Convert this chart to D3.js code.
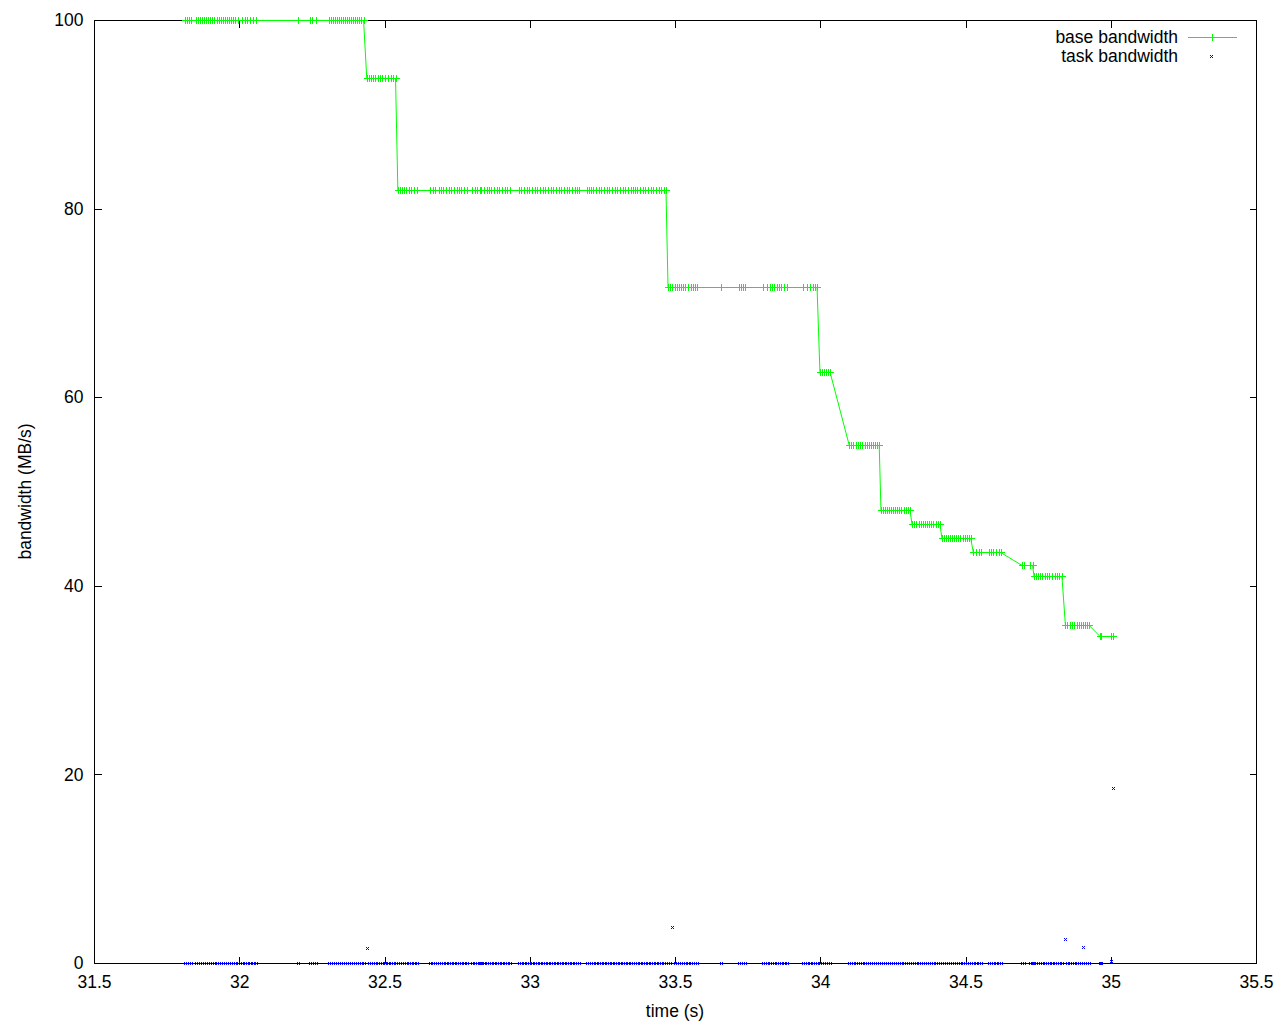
<!DOCTYPE html>
<html><head><meta charset="utf-8">
<script src="https://cdn.jsdelivr.net/npm/d3@7/dist/d3.min.js"></script>
<style>
body{margin:0;background:#fff}
svg{display:block}
text{font-family:"Liberation Sans",Arial,sans-serif;font-size:17.5px;fill:#000}
</style>
</head><body><svg id="c" width="1280" height="1024"></svg>
<script>
// ---- data ----
const xTicks = [31.5, 32, 32.5, 33, 33.5, 34, 34.5, 35, 35.5];
const yTicks = [0, 20, 40, 60, 80, 100];
const xTitle = "time (s)";
const yTitle = "bandwidth (MB/s)";
const seriesNames = ["base bandwidth", "task bandwidth"];

// base bandwidth level (MB/s) of each step
const stepLevels = [100, 93.8, 82.0, 71.7, 62.7, 54.9, 48.0, 46.6, 45.1, 43.6, 42.2, 41.0, 35.8, 34.7];
// sample times (s) belonging to each step
const stepTimes = [
  [31.813,31.820,31.827,31.834,31.851,31.858,31.865,31.872,31.879,31.886,31.892,31.899,31.906,31.913,31.923,31.930,31.937,31.944,31.951,31.958,31.965,31.972,31.978,31.985,31.996,32.009,32.020,32.027,32.037,32.047,32.058,32.202,32.244,32.250,32.264,32.309,32.316,32.323,32.330,32.336,32.343,32.350,32.357,32.364,32.371,32.378,32.385,32.391,32.398,32.405,32.412,32.419,32.428],
  [32.439,32.446,32.452,32.461,32.468,32.478,32.484,32.491,32.503,32.512,32.521,32.530,32.538],
  [32.546,32.553,32.560,32.567,32.574,32.583,32.592,32.601,32.611,
   32.657,32.666,32.675,32.686,32.693,32.702,32.712,32.721,32.730,32.739,32.748,32.757,32.764,32.774,32.783,
   32.801,32.810,32.819,32.829,32.833,32.842,32.852,32.859,32.868,32.877,32.886,32.895,32.904,32.914,32.923,32.932,
   32.962,32.971,32.980,32.989,32.998,33.008,33.017,33.026,33.035,33.044,33.053,33.063,33.072,33.081,33.090,33.100,33.108,33.118,33.127,33.136,33.145,33.155,33.164,33.170,
   33.196,33.203,33.210,33.219,33.228,33.237,33.246,33.256,33.265,33.274,33.283,33.292,33.301,33.311,33.320,33.329,33.338,33.347,33.356,33.363,33.370,33.379,33.389,33.398,33.407,33.416,33.425,33.434,33.444,33.453,33.462,33.469],
  [33.476,33.483,33.490,33.499,33.506,33.513,33.522,33.528,33.535,33.545,33.554,33.561,33.570,33.577,
   33.657,
   33.721,33.728,33.735,33.742,
   33.802,33.816,33.827,33.834,33.841,33.850,33.859,33.866,33.875,33.884,
   33.942,33.955,33.965,33.974,33.981,33.989],
  [33.999,34.006,34.013,34.020,34.027,34.034],
  [34.100,34.107,34.114,34.123,34.130,34.137,34.144,34.153,34.160,34.167,34.174,34.183,34.190,34.196,34.203],
  [34.209,34.216,34.223,34.230,34.237,34.244,34.250,34.258,34.265,34.272,34.279,34.288,34.295,34.302,34.309],
  [34.316,34.323,34.330,34.339,34.346,34.353,34.360,34.369,34.375,34.382,34.389,34.399,34.405,34.412],
  [34.419,34.426,34.433,34.440,34.447,34.454,34.460,34.467,34.474,34.481,34.490,34.497,34.504,34.511,34.518],
  [34.527,34.536,34.545,34.552,34.580,34.587,34.596,34.605,34.614,34.621],
  [34.695,34.701,34.722,34.731],
  [34.736,34.743,34.750,34.756,34.763,34.773,34.782,34.789,34.798,34.807,34.816,34.823,34.832],
  [34.844,34.850,34.860,34.867,34.874,34.883,34.890,34.897,34.903,34.910,34.919,34.926],
  [34.963,34.967,35.000,35.007]
];
// task bandwidth (MB/s) at the same sample times, step by step
const stepTask = [
  [0,0,0,0,0,0,0,0,0,0, 0,0,0,0,0,0,0,0,0,0, 0,0,0,0,0,0,0,0,0,0, 0,0,0,0,0,0,0,0,0,0, 0,0,0,0,0,0,0,0,0,0, 0,0,0],
  [1.6,0,0,0,0,0,0,0,0,0,0,0,0],
  [0,0,0,0,0,0,0,0,0,
   0,0,0,0,0,0,0,0,0,0,0,0,0,0,0,
   0,0,0,0,0,0,0,0,0,0,0,0,0,0,0,0,
   0,0,0,0,0,0,0,0,0,0,0,0,0,0,0,0,0,0,0,0,0,0,0,0,
   0,0,0,0,0,0,0,0,0,0,0,0,0,0,0,0,0,0,0,0,0,0,0,0,0,0,0,0,0,0,0,0],
  [0,0,3.8,0,0,0,0,0,0,0,0,0,0,0,
   0,
   0,0,0,0,
   0,0,0,0,0,0,0,0,0,0,
   0,0,0,0,0,0],
  [0,0,0,0,0,0],
  [0,0,0,0,0,0,0,0,0,0,0,0,0,0,0],
  [0,0,0,0,0,0,0,0,0,0,0,0,0,0,0],
  [0,0,0,0,0,0,0,0,0,0,0,0,0,0],
  [0,0,0,0,0,0,0,0,0,0,0,0,0,0,0],
  [0,0,0,0,0,0,0,0,0,0],
  [0,0,0,0],
  [0,0,0,0,0,0,0,0,0,0,0,0,0],
  [2.5,0,0,0,0,0,0,0,1.7,0,0,0],
  [0,0,0.2,18.6]
];

// ---- build rows from the arrays ----
const baseRows = [], taskRows = [];
stepTimes.forEach((ts, i) => ts.forEach((t, j) => {
  baseRows.push({t, v: stepLevels[i]});
  taskRows.push({t, v: stepTask[i][j]});
}));

// ---- layout ----
const L = 94, R = 1256, T = 20, B = 963;
const x = d3.scaleLinear().domain([31.5, 35.5]).range([L, R]);
const y = d3.scaleLinear().domain([0, 100]).range([B, T]);
const svg = d3.select("#c");
const tick = 7;
const fmt = d => d3.format("~g")(d);

// border
svg.append("rect").attr("x", L + 0.5).attr("y", T + 0.5)
  .attr("width", R - L).attr("height", B - T)
  .attr("fill", "none").attr("stroke", "#000").attr("stroke-width", 1)
  .attr("shape-rendering", "crispEdges");

function styleAxis(g) {
  g.select(".domain").remove();
  g.selectAll(".tick line").attr("stroke", "#000").attr("shape-rendering", "crispEdges");
  g.selectAll("text").attr("fill", "#000").attr("font-family", null).attr("font-size", null);
}
svg.append("g").attr("transform", `translate(0,${B + 0.5})`)
  .call(d3.axisBottom(x).tickValues(xTicks).tickFormat(fmt).tickSize(-tick).tickPadding(12))
  .call(styleAxis);
svg.append("g").attr("transform", `translate(0,${T + 0.5})`)
  .call(d3.axisTop(x).tickValues(xTicks.slice(1, -1)).tickFormat("").tickSize(-tick))
  .call(styleAxis);
svg.append("g").attr("transform", `translate(${L + 0.5},0)`)
  .call(d3.axisLeft(y).tickValues(yTicks).tickFormat(fmt).tickSize(-tick).tickPadding(11))
  .call(styleAxis);
svg.append("g").attr("transform", `translate(${R + 0.5},0)`)
  .call(d3.axisRight(y).tickValues(yTicks.slice(1, -1)).tickFormat("").tickSize(-tick))
  .call(styleAxis);

// axis titles
svg.append("text").attr("x", (L + R) / 2).attr("y", 1011).attr("dy", "0.35em")
  .attr("text-anchor", "middle").text(xTitle);
svg.append("text").attr("transform", `translate(25,${(T + B) / 2}) rotate(-90)`)
  .attr("dy", "0.35em").attr("text-anchor", "middle").text(yTitle);

const green = "#00ff00", blue = "#0000ff";
// pixel-shaped markers (filled), origin = marker pixel's top-left
const plusPath = "M-3,0h7v1h-7zM0,-3h1v7h-1z";
const crossPath = "M-1,-1h1v1h-1zM1,-1h1v1h-1zM0,0h1v1h-1zM-1,1h1v1h-1zM1,1h1v1h-1z";

// base line
svg.append("path").datum(baseRows)
  .attr("d", d3.line().x(d => x(d.t)).y(d => Math.round(y(d.v)) + 0.5))
  .attr("fill", "none").attr("stroke", green).attr("stroke-width", 1);
svg.append("g").selectAll("path").data(baseRows).join("path")
  .attr("transform", d => `translate(${Math.round(x(d.t))},${Math.round(y(d.v))})`)
  .attr("d", plusPath).attr("fill", green).attr("shape-rendering", "crispEdges");

// task points
svg.append("g").selectAll("path").data(taskRows).join("path")
  .attr("transform", d => `translate(${Math.round(x(d.t))},${Math.round(y(d.v))})`)
  .attr("d", crossPath).attr("fill", blue).attr("shape-rendering", "crispEdges");

// legend
const lg = svg.append("g");
lg.append("text").attr("x", 1178).attr("y", 37).attr("dy", "0.35em")
  .attr("text-anchor", "end").text(seriesNames[0]);
lg.append("line").attr("x1", 1188).attr("x2", 1237).attr("y1", 37.5).attr("y2", 37.5)
  .attr("stroke", green).attr("stroke-width", 1).attr("shape-rendering", "crispEdges");
lg.append("path").attr("transform", "translate(1212,37)").attr("d", plusPath)
  .attr("fill", green).attr("shape-rendering", "crispEdges");
lg.append("text").attr("x", 1178).attr("y", 56).attr("dy", "0.35em")
  .attr("text-anchor", "end").text(seriesNames[1]);
lg.append("path").attr("transform", "translate(1211,56)").attr("d", crossPath)
  .attr("fill", blue).attr("shape-rendering", "crispEdges");
</script>
</body></html>
